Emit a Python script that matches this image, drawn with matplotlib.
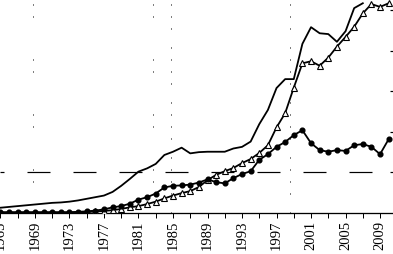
import numpy as np
import matplotlib
matplotlib.use('Agg')
import matplotlib.pyplot as plt

plt.rcParams['font.family'] = ['Liberation Serif', 'DejaVu Serif']
plt.rcParams['lines.scale_dashes'] = False

# years on the x axis
years = np.arange(1965, 2011)
years_plain = np.arange(1965, 2008)

# plain line (no markers)
plain = [0.13, 0.15, 0.17, 0.19, 0.21, 0.23, 0.25, 0.26, 0.28, 0.31,
         0.35, 0.39, 0.43, 0.52, 0.67, 0.84, 1.02, 1.10, 1.21, 1.43,
         1.51, 1.61, 1.47, 1.50, 1.51, 1.51, 1.51, 1.59, 1.63, 1.76,
         2.19, 2.54, 3.08, 3.30, 3.30, 4.17, 4.58, 4.43, 4.41, 4.22,
         4.48, 5.05, 5.17]

# open triangles
triangles = [0.01, 0.01, 0.01, 0.01, 0.01, 0.01, 0.01, 0.01, 0.01, 0.01,
             0.02, 0.04, 0.05, 0.07, 0.10, 0.14, 0.17, 0.22, 0.28, 0.36,
             0.43, 0.49, 0.54, 0.64, 0.81, 0.94, 1.03, 1.11, 1.23, 1.33,
             1.48, 1.67, 2.11, 2.46, 3.09, 3.69, 3.74, 3.63, 3.83, 4.10,
             4.34, 4.59, 4.92, 5.15, 5.08, 5.17]

# filled circles
circles = [0.02, 0.02, 0.02, 0.02, 0.02, 0.02, 0.02, 0.02, 0.02, 0.03,
           0.04, 0.06, 0.09, 0.14, 0.17, 0.23, 0.33, 0.39, 0.48, 0.63,
           0.67, 0.68, 0.70, 0.75, 0.83, 0.76, 0.73, 0.86, 0.96, 1.03,
           1.31, 1.45, 1.63, 1.75, 1.92, 2.04, 1.72, 1.55, 1.51, 1.55,
           1.53, 1.67, 1.70, 1.63, 1.45, 1.82]

ref_level = 1.0
label_years = np.arange(1965, 2010, 4)
tick_years = np.arange(1965, 2010, 2)
# sparse dotted verticals seen in the picture
dots_full = [1984.77, 1998.56]
dots_pairs = [1968.77, 1982.68]

px = 0.72  # points per pixel at dpi 100

fig = plt.figure(figsize=(3.93, 2.54), dpi=100)
ax = fig.add_axes([0, 41 / 254, 1, 213 / 254])

ax.set_xlim(1964.95, 2010.5)
ax.set_ylim(0, 5.25)

pat_full = (51 * px, [v * px for v in [1, 11, 1, 11, 1, 18, 1, 11]])
pat_pairs = (51 * px, [v * px for v in [1, 11, 1, 42]])
for x in dots_full:
    ax.plot([x, x], [5.25, 0], color='black', lw=1 * px, ls=pat_full,
            dash_capstyle='butt', zorder=1)
for x in dots_pairs:
    ax.plot([x, x], [5.25, 0], color='black', lw=1 * px, ls=pat_pairs,
            dash_capstyle='butt', zorder=1)

ax.axhline(ref_level, color='black', lw=1.2 * px,
           ls=(19 * px, (23 * px, 23 * px)), dash_capstyle='butt', zorder=1)

ax.plot(years_plain, plain, color='black', lw=1.8 * px, zorder=3)
ax.plot(years, triangles, color='black', lw=1.8 * px, marker='^',
        ms=4.0, mfc='white', mec='black', mew=0.8, zorder=3)
ax.plot(years, circles, color='black', lw=1.8 * px, marker='o',
        ms=3.4, mfc='black', mec='black', zorder=4)

for s in ['left', 'top', 'right']:
    ax.spines[s].set_visible(False)
ax.spines['bottom'].set_linewidth(1.3 * px)

ax.set_xticks(tick_years)
ax.set_xticklabels([str(y) if y in label_years else '' for y in tick_years],
                   rotation=90, fontsize=10.5)
ax.tick_params(axis='x', direction='out', length=5 * px, width=1 * px, pad=2)

ax.yaxis.tick_right()
ax.set_yticks([1, 2, 3, 4, 5])
ax.set_yticklabels([])
ax.tick_params(axis='y', direction='in', length=3 * px, width=1.2 * px)

fig.savefig('out.png', dpi=100)
